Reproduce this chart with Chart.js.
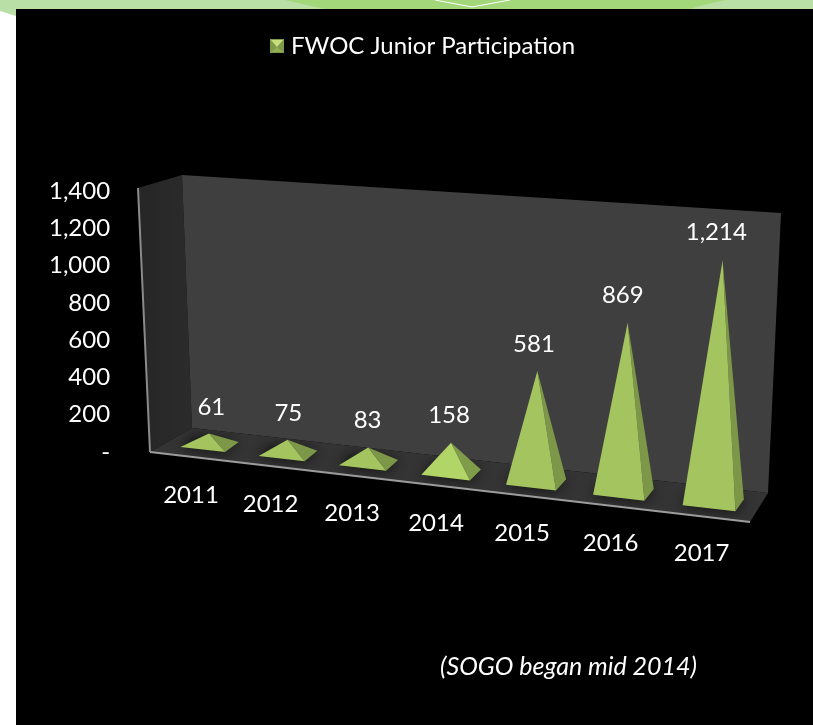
<!DOCTYPE html>
<html>
<head>
<meta charset="utf-8">
<title>FWOC Junior Participation</title>
<script src="https://cdn.jsdelivr.net/npm/chart.js@4/dist/chart.umd.min.js"></script>
<style>
  html, body { margin: 0; padding: 0; background: #fff; overflow: hidden; }
  canvas { display: block; }
</style>
</head>
<body>
<canvas id="chart" width="813" height="725"></canvas>
<script>
const years = ['2011', '2012', '2013', '2014', '2015', '2016', '2017'];
const participation = [61, 75, 83, 158, 581, 869, 1214];
const seriesName = 'FWOC Junior Participation';
const footNote = '(SOGO began mid 2014)';
const fontName = 'Lato, "Open Sans", sans-serif';

// the perspective plane that runs through the middle of the pyramids
// order: bottom left, bottom right, top right, top left
function quadMap(p0, p1, p2, p3) {
  const dx1 = p1[0] - p2[0], dx2 = p3[0] - p2[0], sx = p0[0] - p1[0] + p2[0] - p3[0];
  const dy1 = p1[1] - p2[1], dy2 = p3[1] - p2[1], sy = p0[1] - p1[1] + p2[1] - p3[1];
  const den = dx1 * dy2 - dx2 * dy1;
  const g = (sx * dy2 - dx2 * sy) / den;
  const h = (dx1 * sy - sx * dy1) / den;
  const a = p1[0] - p0[0] + g * p1[0], b = p3[0] - p0[0] + h * p3[0];
  const d = p1[1] - p0[1] + g * p1[1], e = p3[1] - p0[1] + h * p3[1];
  return (u, v) => {
    const w = g * u + h * v + 1;
    return [(a * u + b * v + p0[0]) / w, (d * u + e * v + p0[1]) / w];
  };
}
const plane = quadMap([171, 440], [759, 507.5], [772, 225], [160, 181.5]);

function poly(ctx, pts, fill) {
  ctx.beginPath();
  pts.forEach((p, i) => i ? ctx.lineTo(p[0], p[1]) : ctx.moveTo(p[0], p[1]));
  ctx.closePath();
  ctx.fillStyle = fill;
  ctx.fill();
}

function line(ctx, a, b, color, width) {
  ctx.beginPath();
  ctx.moveTo(a[0], a[1]);
  ctx.lineTo(b[0], b[1]);
  ctx.strokeStyle = color;
  ctx.lineWidth = width;
  ctx.stroke();
}

// flat chart position -> position on the tilted plane
function project(chart, x, y) {
  const area = chart.chartArea;
  return plane((x - area.left) / area.width, (area.bottom - y) / area.height);
}

// the four base corners and the apex of one bar element
function pyramid(chart, bar) {
  const area = chart.chartArea;
  const u = (bar.x - area.left) / area.width;
  const c = project(chart, bar.x, bar.base);
  const l = project(chart, bar.x - bar.width / 2, bar.base);
  const r = project(chart, bar.x + bar.width / 2, bar.base);
  const dx = 14 - 6 * u, dy = -10 - 2 * u; //depth gets steeper to the right
  return {
    u: u,
    apex: project(chart, bar.x, bar.y),
    frontLeft: [l[0] - dx / 2, l[1] - dy / 2],
    frontRight: [r[0] - dx / 2, r[1] - dy / 2],
    backRight: [r[0] + dx / 2, r[1] + dy / 2],
    backLeft: [l[0] + dx / 2, l[1] + dy / 2],
    center: c
  };
}

// page furniture behind the chart
const backdrop = {
  id: 'backdrop',
  beforeDraw(chart) {
    const ctx = chart.ctx;
    ctx.save();
    ctx.fillStyle = '#ffffff';
    ctx.fillRect(0, 0, 813, 725);
    poly(ctx, [[0, 0], [813, 0], [813, 9], [16, 9], [16, 16], [0, 11]], '#b9dfa6');
    poly(ctx, [[285, 0], [725, 0], [700, 6], [690, 9], [325, 9], [311, 6]], '#a3d87a');
    line(ctx, [435, 0], [472, 7], '#ffffff', 1);
    line(ctx, [472, 7], [510, 0], '#ffffff', 1);
    ctx.fillStyle = '#000000';
    ctx.fillRect(16, 9, 797, 716);
    ctx.restore();
  }
};

// walls and floor of the 3d box
const box = {
  id: 'box',
  beforeDatasetsDraw(chart) {
    const ctx = chart.ctx;
    ctx.save();
    const side = ctx.createLinearGradient(138, 0, 190, 0);
    side.addColorStop(0, '#262626');
    side.addColorStop(1, '#2b2b2b');
    poly(ctx, [[138, 188], [182, 175], [192, 428], [150, 452]], side);
    poly(ctx, [[182, 175], [781, 213], [768, 493], [192, 428]], '#3f3f3f');
    const floor = [[150, 452], [192, 428], [768, 493], [750, 522]];
    poly(ctx, floor, '#343434');

    // soft dark patch under each pyramid
    ctx.save();
    ctx.beginPath();
    floor.forEach((p, i) => i ? ctx.lineTo(p[0], p[1]) : ctx.moveTo(p[0], p[1]));
    ctx.closePath();
    ctx.clip();
    ctx.shadowColor = 'rgba(0,0,0,0.75)';
    ctx.shadowBlur = 14;
    chart.getDatasetMeta(0).data.forEach(bar => {
      const p = pyramid(chart, bar);
      poly(ctx, [p.frontLeft, p.frontRight, p.backRight, p.backLeft], '#222222');
    });
    ctx.restore();

    line(ctx, [138, 188], [150, 452], '#8a8a8a', 2);
    line(ctx, [150, 452], [750, 522], '#9c9c9c', 2);
    ctx.restore();
  }
};

const pyramids = {
  id: 'pyramids',
  afterDatasetsDraw(chart) {
    const ctx = chart.ctx;
    const xScale = chart.scales.x;
    ctx.save();
    ctx.font = '24px ' + fontName;
    ctx.fillStyle = '#ffffff';
    ctx.textAlign = 'center';
    ctx.textBaseline = 'middle';
    chart.getDatasetMeta(0).data.forEach((bar, i) => {
      const p = pyramid(chart, bar);
      const bright = years[i] === '2014';
      poly(ctx, [p.apex, p.frontRight, p.backRight], bright ? '#7f9c4a' : '#7b9747');
      poly(ctx, [p.apex, p.frontLeft, p.frontRight], bright ? '#b1d566' : '#a3c45e');

      ctx.fillStyle = '#ffffff';
      ctx.fillText(participation[i].toLocaleString('en-US'), p.apex[0] + 3 - 10 * p.u, p.apex[1] - 26 - 2 * p.u);
      ctx.fillText(xScale.getLabelForValue(i), p.center[0] - 19 + 8 * p.u, p.center[1] + 51);
    });
    ctx.textAlign = 'left';
    ctx.font = 'italic 25px ' + fontName;
    ctx.fillText(footNote, 440, 667);
    ctx.restore();
  }
};

// small legend swatch, looks like a pyramid from above
function legendSwatch() {
  const c = document.createElement('canvas');
  c.width = 14;
  c.height = 14;
  const g = c.getContext('2d');
  poly(g, [[0, 0], [14, 0], [14, 14], [0, 14]], '#7f9a48');
  poly(g, [[1, 1], [13, 1], [7, 8]], '#c6e07c');
  poly(g, [[1, 13], [13, 13], [7, 8]], '#93ad52');
  return c;
}

new Chart(document.getElementById('chart'), {
  type: 'bar',
  data: {
    labels: years,
    datasets: [{
      label: seriesName,
      data: participation,
      backgroundColor: 'rgba(0,0,0,0)',
      barPercentage: 0.58,
      categoryPercentage: 1
    }]
  },
  plugins: [backdrop, box, pyramids],
  options: {
    responsive: false,
    animation: false,
    events: [],
    layout: { padding: { left: 41, right: 4, top: 24, bottom: 273 } },
    plugins: {
      tooltip: { enabled: false },
      legend: {
        position: 'top',
        labels: {
          color: '#ffffff',
          font: { family: fontName, size: 24 },
          usePointStyle: true,
          boxWidth: 4,
          padding: 10,
          generateLabels: () => [{
            text: seriesName,
            fontColor: '#ffffff',
            pointStyle: legendSwatch(),
            datasetIndex: 0
          }]
        }
      }
    },
    scales: {
      x: {
        position: 'top',
        afterFit: scale => { scale.height = 123; }, //empty room between legend and box
        grid: { display: false },
        border: { display: false },
        ticks: { display: false }
      },
      y: {
        min: 0,
        max: 1400,
        grid: { display: false },
        border: { display: false },
        ticks: {
          stepSize: 200,
          color: '#ffffff',
          padding: 8,
          font: { family: fontName, size: 24 },
          callback: v => v === 0 ? '-' : v.toLocaleString('en-US')
        }
      }
    }
  }
});
</script>
</body>
</html>
